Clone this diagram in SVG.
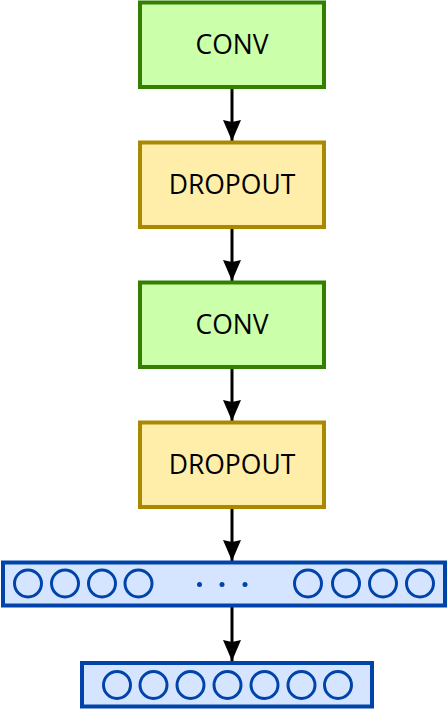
<svg xmlns="http://www.w3.org/2000/svg" width="448" height="709" viewBox="0 0 448 709">
<defs>
<style>
.conv{fill:#ccffaa;stroke:#338000;stroke-width:4}
.drop{fill:#ffeeaa;stroke:#aa8800;stroke-width:4}
.bar{fill:#d5e5ff;stroke:#0044aa;stroke-width:4}
.n{fill:none;stroke:#0044aa;stroke-width:3}
.d{fill:#0044aa}
.lbl{font-family:"Open Sans","Noto Sans",sans-serif;font-size:26.5px;fill:#000;text-anchor:middle;dominant-baseline:central}
.edge{stroke:#000;stroke-width:3;fill:none}
</style>
<marker id="ah" viewBox="-22 -10 23 20" refX="0" refY="0" markerWidth="23" markerHeight="20" orient="auto" markerUnits="userSpaceOnUse">
<path d="M0,0 L-21,-9 L-19,0 L-21,9 z" fill="#000"/>
</marker>
</defs>
<rect width="448" height="709" fill="#fff"/>
<g id="edges">
<line class="edge" x1="232" y1="88" x2="232" y2="141" marker-end="url(#ah)"/>
<line class="edge" x1="232" y1="228" x2="232" y2="281" marker-end="url(#ah)"/>
<line class="edge" x1="232" y1="368" x2="232" y2="421" marker-end="url(#ah)"/>
<line class="edge" x1="232" y1="508" x2="232" y2="561" marker-end="url(#ah)"/>
<line class="edge" x1="232" y1="607" x2="232" y2="661" marker-end="url(#ah)"/>
</g>
<g id="conv1"><rect class="conv" x="140" y="2.5" width="184" height="84.5"/><text class="lbl" x="232" y="44">CONV</text></g>
<g id="dropout1"><rect class="drop" x="140" y="142.5" width="184" height="84.5"/><text class="lbl" x="232" y="184">DROPOUT</text></g>
<g id="conv2"><rect class="conv" x="140" y="282.5" width="184" height="84.5"/><text class="lbl" x="232" y="324">CONV</text></g>
<g id="dropout2"><rect class="drop" x="140" y="422.5" width="184" height="84.5"/><text class="lbl" x="232" y="464">DROPOUT</text></g>
<g id="layer1">
<rect class="bar" x="3" y="562.5" width="442" height="43"/>
<circle class="n" cx="28" cy="583.5" r="13.5"/>
<circle class="n" cx="65" cy="583.5" r="13.5"/>
<circle class="n" cx="102" cy="583.5" r="13.5"/>
<circle class="n" cx="138.5" cy="583.5" r="13.5"/>
<circle class="d" cx="199.5" cy="584.5" r="2.5"/>
<circle class="d" cx="222" cy="584.5" r="2.5"/>
<circle class="d" cx="245" cy="584.5" r="2.5"/>
<circle class="n" cx="308" cy="583.5" r="13.5"/>
<circle class="n" cx="346" cy="583.5" r="13.5"/>
<circle class="n" cx="383" cy="583.5" r="13.5"/>
<circle class="n" cx="420" cy="583.5" r="13.5"/>
</g>
<g id="layer2">
<rect class="bar" x="82" y="663" width="290" height="43.5"/>
<circle class="n" cx="117" cy="685" r="13.5"/>
<circle class="n" cx="153.5" cy="685" r="13.5"/>
<circle class="n" cx="190.5" cy="685" r="13.5"/>
<circle class="n" cx="227.5" cy="685" r="13.5"/>
<circle class="n" cx="264.5" cy="685" r="13.5"/>
<circle class="n" cx="301.5" cy="685" r="13.5"/>
<circle class="n" cx="338" cy="685" r="13.5"/>
</g>
</svg>
